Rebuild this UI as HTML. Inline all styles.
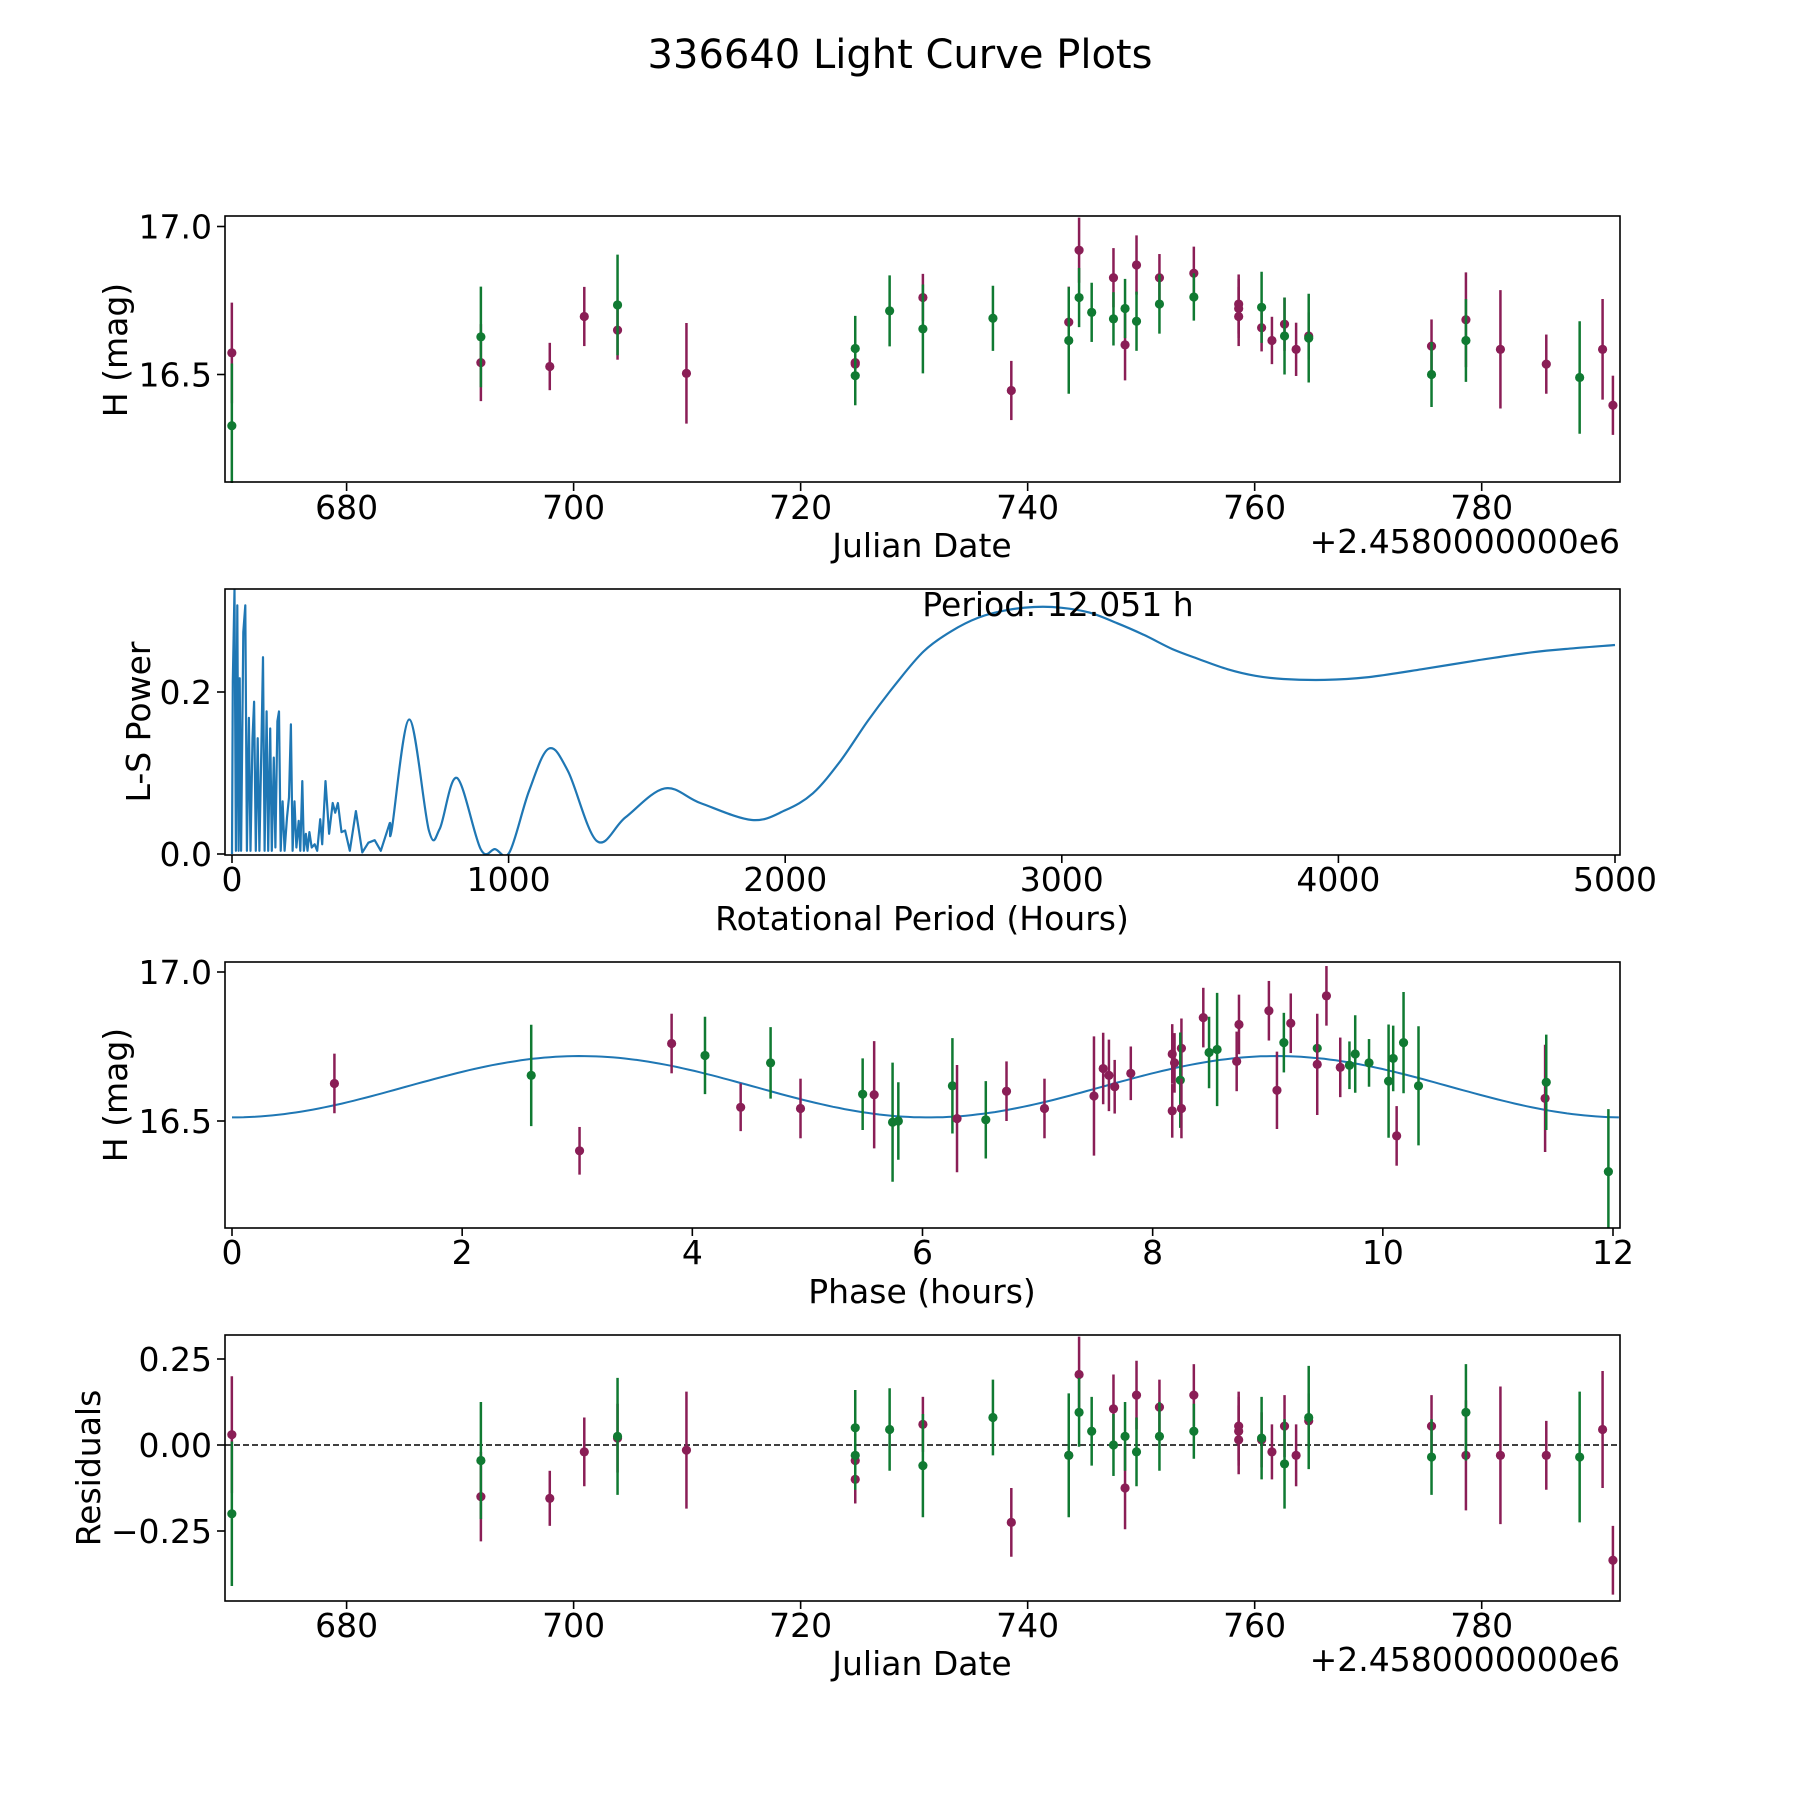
<!DOCTYPE html>
<html><head><meta charset="utf-8"><style>
body{margin:0;background:#fff}
svg text{font-family:"DejaVu Sans","Liberation Sans",sans-serif;fill:#000}
</style></head><body>
<svg id="fig" width="1800" height="1800" viewBox="0 0 1800 1800" xmlns="http://www.w3.org/2000/svg">
<rect width="1800" height="1800" fill="#fff"/>
<text x="900" y="68" font-size="40" text-anchor="middle">336640 Light Curve Plots</text>
<defs>
<clipPath id="c1"><rect x="225" y="216" width="1395" height="267"/></clipPath>
<clipPath id="c2"><rect x="225" y="589" width="1395" height="266"/></clipPath>
<clipPath id="c3"><rect x="225" y="962" width="1395" height="266"/></clipPath>
<clipPath id="c4"><rect x="225" y="1335" width="1395" height="266"/></clipPath>
</defs>
</svg>
<script>
// ---- time-series data (Julian date offset, H mag, error, residual, filter) ----
const dates=[669.89,669.89,691.83,691.83,697.90,700.94,703.87,703.87,709.94,724.81,724.81,724.81,724.81,727.84,730.77,730.77,736.94,738.56,743.62,743.62,744.53,744.53,745.64,747.56,747.56,748.58,748.58,749.59,749.59,751.61,751.61,754.64,754.64,758.59,758.59,758.59,760.61,760.61,761.52,762.63,762.63,763.65,764.76,764.76,775.58,775.58,778.61,778.61,781.65,785.69,788.63,790.65,791.56];
const mags=[16.573,16.327,16.54,16.627,16.527,16.696,16.65,16.735,16.504,16.54,16.535,16.588,16.496,16.715,16.76,16.654,16.69,16.446,16.677,16.615,16.92,16.76,16.71,16.827,16.688,16.6,16.723,16.87,16.68,16.827,16.738,16.842,16.762,16.738,16.723,16.696,16.658,16.727,16.615,16.67,16.63,16.585,16.63,16.623,16.596,16.5,16.685,16.615,16.585,16.535,16.49,16.585,16.396];
const errs=[0.17,0.21,0.13,0.17,0.08,0.1,0.1,0.17,0.17,0.06,0.07,0.11,0.1,0.12,0.08,0.15,0.11,0.1,0.12,0.18,0.11,0.1,0.1,0.1,0.09,0.12,0.1,0.1,0.1,0.08,0.1,0.09,0.08,0.1,0.1,0.1,0.08,0.12,0.08,0.09,0.13,0.09,0.08,0.15,0.09,0.11,0.16,0.14,0.2,0.1,0.19,0.17,0.1];
const resids=[0.03,-0.2,-0.15,-0.045,-0.155,-0.02,0.02,0.025,-0.015,-0.045,-0.1,0.05,-0.03,0.045,0.06,-0.06,0.08,-0.225,-0.03,-0.03,0.205,0.095,0.04,0.105,0.0,-0.125,0.025,0.145,-0.02,0.11,0.025,0.145,0.04,0.055,0.04,0.015,0.015,0.02,-0.02,0.055,-0.055,-0.03,0.07,0.08,0.055,-0.035,-0.03,0.095,-0.03,-0.03,-0.035,0.045,-0.335];
const filters="PGPGPPPGPPPGGGPGGPPGPGGPGPGPGPGPGPPPPGPPGPPGPGPGPPGPP".split("");
// ---- phase-folded data ----
const phases=[0.89,2.60,3.02,3.82,4.11,4.42,4.68,4.94,5.48,5.58,5.74,5.79,6.26,6.30,6.55,6.73,7.06,7.49,7.57,7.62,7.67,7.81,8.17,8.17,8.19,8.25,8.24,8.25,8.44,8.49,8.56,8.73,8.75,9.01,9.08,9.14,9.20,9.43,9.43,9.51,9.63,9.71,9.76,9.88,10.05,10.09,10.12,10.18,10.31,11.41,11.42,11.96];
const phaseMags=[16.626,16.653,16.40,16.76,16.72,16.546,16.695,16.542,16.59,16.588,16.496,16.5,16.618,16.508,16.504,16.6,16.542,16.584,16.676,16.653,16.615,16.66,16.534,16.725,16.695,16.744,16.637,16.542,16.847,16.73,16.74,16.70,16.824,16.87,16.603,16.763,16.828,16.744,16.69,16.92,16.68,16.687,16.725,16.695,16.634,16.71,16.45,16.763,16.618,16.576,16.63,16.33];
const phaseErrs=[0.1,0.17,0.08,0.1,0.13,0.08,0.12,0.1,0.12,0.18,0.2,0.13,0.16,0.18,0.13,0.1,0.1,0.2,0.12,0.12,0.09,0.09,0.09,0.1,0.1,0.1,0.16,0.1,0.1,0.12,0.19,0.1,0.1,0.1,0.13,0.1,0.1,0.1,0.17,0.1,0.1,0.08,0.13,0.08,0.19,0.11,0.1,0.17,0.2,0.18,0.16,0.21];
const phaseFilters="PGPPGPGPGPGGGPGPPPPPPPPPPPGPPGGPPPPGPGPPPGGGGGPGGPGG".split("");
// ---- fitted model parameters (mean, amplitude, model period in phase-hours) ----
const fitMean=16.615, fitAmp=0.103, fitPeriod=6.05, foldPeriod=12.051;
// ---- periodogram (period hours, L-S power) ----
const lsPeriods=[0,3,9,14,19,24,28,33,41,48,54,61,67,74,80,86,93,99,106,112,118,125,131,138,144,151,157,164,170,176,183,190,199,206,213,219,226,233,241,247,254,260,267,273,280,288,299,308,319,326,338,351,364,373,383,396,409,426,448,471,493,516,538,570,577,641,712,751,813,899,951,1003,1074,1145,1215,1319,1422,1564,1693,1880,2000,2100,2200,2300,2400,2500,2600,2700,2800,2900,3000,3100,3200,3300,3400,3500,3600,3700,3800,3950,4100,4300,4500,4700,4850,5000];
const lsPower=[0,0.213,0.327,0.004,0.307,0.004,0.217,0.004,0.274,0.307,0.004,0.168,0.004,0.143,0.188,0.004,0.143,0.004,0.127,0.243,0.004,0.176,0.004,0.155,0.004,0.119,0.008,0.164,0.176,0.004,0.065,0.004,0.045,0.07,0.16,0.004,0.065,0.008,0.041,0.004,0.09,0.004,0.025,0.004,0.027,0.008,0.012,0.004,0.043,0.012,0.09,0.025,0.063,0.051,0.063,0.027,0.029,0.004,0.053,0.002,0.014,0.017,0.004,0.038,0.029,0.166,0.029,0.031,0.094,0.006,0.006,0.002,0.078,0.130,0.102,0.016,0.045,0.081,0.063,0.042,0.054,0.075,0.115,0.165,0.21,0.25,0.275,0.292,0.301,0.305,0.304,0.298,0.285,0.27,0.253,0.24,0.228,0.22,0.216,0.215,0.218,0.228,0.239,0.249,0.254,0.258];
const dateTicks=[680,700,720,740,760,780];
const magTicks=[16.5,17.0];
const lsXTicks=[0,1000,2000,3000,4000,5000];
const lsYTicks=[0.0,0.2];
const phaseTicks=[0,2,4,6,8,10,12];
const residTicks=[0.25,0,-0.25];

const svg=document.getElementById('fig');
const NS='http://www.w3.org/2000/svg';
const COL={P:'#8a1e56',G:'#107a32'};
const FS=33;
function mk(tag,attrs,parent){const e=document.createElementNS(NS,tag);for(const k in attrs)e.setAttribute(k,attrs[k]);(parent||svg).appendChild(e);return e;}
function lin(d0,d1,r0,r1){return v=>r0+(v-d0)*(r1-r0)/(d1-d0);}
const L=225,R=1620;
const xDate=lin(680,780,346.6,1481.7);
const yMag1=lin(16.5,17.0,374.5,226.5);
const xLS=lin(0,5000,232,1615);
const yLS=lin(0,0.2,854,692);
const xPh=lin(0,12,232,1613);
const yMag3=lin(16.5,17.0,1121,972);
const yRes=lin(0,0.25,1445,1359);

function frame(top,name){const r=mk('rect',{x:L,y:top,width:R-L,height:266,fill:'none',stroke:'#000','stroke-width':1.6});}
function xticks(ticks,fx,bottom,fmt){ticks.forEach(t=>{const x=fx(t);mk('line',{x1:x,x2:x,y1:bottom,y2:bottom+8,stroke:'#000','stroke-width':1.6});const tx=mk('text',{x:x,y:bottom+36,'font-size':FS,'text-anchor':'middle'});tx.textContent=fmt(t);});}
function yticks(ticks,fy,fmt){ticks.forEach(t=>{const y=fy(t);mk('line',{x1:L-8,x2:L,y1:y,y2:y,stroke:'#000','stroke-width':1.6});const tx=mk('text',{x:L-13,y:y+12,'font-size':FS,'text-anchor':'end'});tx.textContent=fmt(t);});}
function label(txt,x,y,rot,name){const t=mk('text',{x:x,y:y,'font-size':FS,'text-anchor':'middle'});if(rot)t.setAttribute('transform','rotate(-90 '+x+' '+y+')');t.textContent=txt;return t;}
function errpts(xs,ys,es,cs,fx,fy,clip,name){const g=mk('g',{'clip-path':'url(#'+clip+')'});
 xs.forEach((xv,i)=>{const x=fx(xv),c=COL[cs[i]];const ln=mk('line',{x1:x,x2:x,y1:fy(ys[i]-es[i]),y2:fy(ys[i]+es[i]),stroke:c,'stroke-width':2.5},g);
 const d=mk('circle',{cx:x,cy:fy(ys[i]),r:4.6,fill:c},g);});}
const fmtMag=v=>v.toFixed(1), fmtRes=v=>(v<0?'\u2212':'')+Math.abs(v).toFixed(2);

// Panel 1
errpts(dates,mags,errs,filters,xDate,yMag1,'c1','light-curve-points');
frame(216,'light-curve-axes');xticks(dateTicks,xDate,483,String);yticks(magTicks,yMag1,fmtMag);
label('Julian Date',922,557,false,'x-axis-title-date');label('H (mag)',127,350,true,'y-axis-title-mag');
let o=mk('text',{x:R,y:553,'font-size':FS,'text-anchor':'end'});o.textContent='+2.4580000000e6';

// Panel 2: jagged straight segments for short periods, smooth Catmull-Rom for long periods
const P=lsPeriods.map((p,i)=>[xLS(p),yLS(lsPower[i])]);
const splitIdx=lsPeriods.findIndex(p=>p>=570);
let d='M'+P[0][0].toFixed(1)+','+P[0][1].toFixed(1);
for(let i=1;i<=splitIdx;i++)d+=' L'+P[i][0].toFixed(1)+','+P[i][1].toFixed(1);
for(let i=splitIdx;i<P.length-1;i++){const p0=P[Math.max(i-1,0)],p1=P[i],p2=P[i+1],p3=P[Math.min(i+2,P.length-1)];
 const c1=[p1[0]+(p2[0]-p0[0])/6,p1[1]+(p2[1]-p0[1])/6],c2=[p2[0]-(p3[0]-p1[0])/6,p2[1]-(p3[1]-p1[1])/6];
 d+=' C'+c1[0].toFixed(1)+','+c1[1].toFixed(1)+' '+c2[0].toFixed(1)+','+c2[1].toFixed(1)+' '+p2[0].toFixed(1)+','+p2[1].toFixed(1);}
const g2=mk('g',{'clip-path':'url(#c2)'});
const pl=mk('path',{d:d,fill:'none',stroke:'#1f77b4','stroke-width':2.2,'stroke-linejoin':'round'},g2);

frame(589,'periodogram-axes');xticks(lsXTicks,xLS,855,String);yticks(lsYTicks,yLS,fmtMag);
label('Rotational Period (Hours)',922,930,false,'x-axis-title-period');label('L-S Power',150,722,true,'y-axis-title-power');
label('Period: '+foldPeriod.toFixed(3)+' h',1058,616,false,'period-annotation');

// Panel 3
const g3=mk('g',{'clip-path':'url(#c3)'});
const fp=[];for(let i=0;i<=240;i++){const x=foldPeriod*i/240;fp.push(xPh(x).toFixed(1)+','+yMag3(fitMean-fitAmp*Math.cos(2*Math.PI*x/fitPeriod)).toFixed(1));}
const fl=mk('polyline',{points:fp.join(' '),fill:'none',stroke:'#1f77b4','stroke-width':2},g3);

errpts(phases,phaseMags,phaseErrs,phaseFilters,xPh,yMag3,'c3','phase-points');
frame(962,'phase-axes');xticks(phaseTicks,xPh,1228,String);yticks(magTicks,yMag3,fmtMag);
label('Phase (hours)',922,1303,false,'x-axis-title-phase');label('H (mag)',127,1095,true,'y-axis-title-mag-phase');

// Panel 4
const zl=mk('line',{x1:L,x2:R,y1:yRes(0),y2:yRes(0),stroke:'#000','stroke-width':1.6,'stroke-dasharray':'6,3'});

errpts(dates,resids,errs,filters,xDate,yRes,'c4','residual-points');
frame(1335,'residual-axes');xticks(dateTicks,xDate,1601,String);yticks(residTicks,yRes,fmtRes);
label('Julian Date',922,1675,false,'x-axis-title-date-resid');label('Residuals',100,1468,true,'y-axis-title-residuals');
o=mk('text',{x:R,y:1671,'font-size':FS,'text-anchor':'end'});o.textContent='+2.4580000000e6';
</script>
</body></html>
